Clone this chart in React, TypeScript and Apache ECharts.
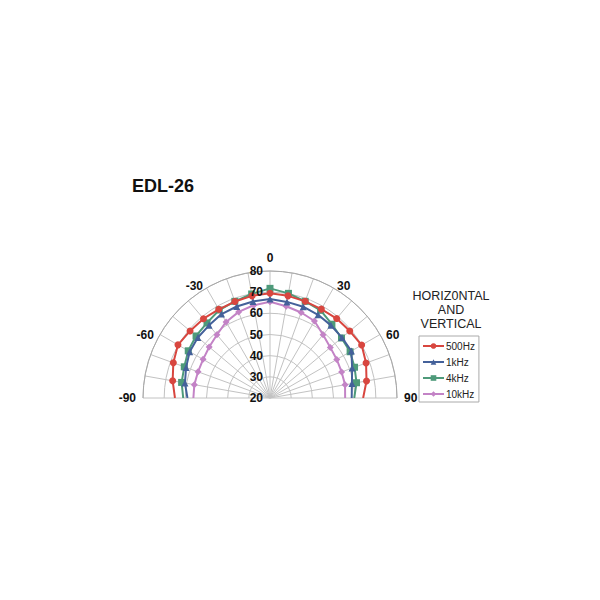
import React, { useEffect, useRef } from "react";
import * as echarts from "echarts";

const angles = [-90, -80, -70, -60, -50, -40, -30, -20, -10, 0, 10, 20, 30, 40, 50, 60, 70, 80, 90];
const s500 = [64.9, 66.7, 68.6, 70.2, 69.3, 68.9, 68.4, 68.5, 69.0, 69.5, 69.0, 68.6, 68.5, 69.0, 69.2, 70.0, 68.3, 66.3, 64.0];
const s1k = [59.0, 60.8, 62.2, 63.8, 64.5, 64.8, 65.8, 66.0, 66.3, 66.8, 66.1, 65.9, 65.4, 64.8, 64.4, 64.4, 61.3, 59.3, 58.6];
const s4k = [61.0, 62.4, 63.1, 64.6, 65.6, 66.3, 68.0, 68.6, 69.9, 71.8, 70.2, 68.6, 67.8, 65.5, 64.1, 63.7, 62.5, 61.5, 59.8];
const s10k = [56.2, 56.3, 56.2, 56.5, 57.5, 59.0, 61.5, 63.3, 64.5, 65.5, 64.0, 63.0, 62.0, 59.0, 57.2, 56.4, 56.0, 56.0, 55.5];
const seriesNames = ["500Hz", "1kHz", "4kHz", "10kHz"];
const seriesValues = [s500, s1k, s4k, s10k];
const seriesColors = ["#D8463F", "#44619A", "#4E9A7A", "#C383C6"];
const seriesSymbols = ["circle", "triangle", "rect", "diamond"];
const radiusTicks = { min: 20, max: 80, step: 10 };
const angleLabelStep = 30;
const titleText = "EDL-26";
const legendTitle = "HORIZ0NTAL\nAND\nVERTICAL";

const FONT = 'Arial, "Liberation Sans", sans-serif';

export default function App() {
  const ref = useRef<HTMLDivElement>(null);
  useEffect(() => {
    if (!ref.current) return;
    const chart = echarts.init(ref.current, null, { renderer: "svg" });
    const grid = "#c2c2c2";
    const labelStyle = { fontSize: 12, fontWeight: "bold", color: "#111", fontFamily: FONT };
    chart.setOption({
      animation: false,
      backgroundColor: "#ffffff",
      title: {
        text: titleText,
        left: 132,
        top: 177,
        padding: 0,
        textStyle: { fontSize: 18, fontWeight: "bold", color: "#111", fontFamily: FONT },
      },
      graphic: [
        {
          type: "text",
          x: 451,
          y: 289,
          style: {
            text: legendTitle,
            fontSize: 12.5,
            lineHeight: 14,
            fontFamily: FONT,
            fill: "#222",
            align: "center",
            verticalAlign: "top",
          },
        },
      ],
      legend: {
        orient: "vertical",
        left: 419,
        top: 336,
        itemWidth: 21,
        itemHeight: 7,
        itemGap: 4,
        padding: [4, 4, 2, 3],
        borderColor: "#aaa",
        borderWidth: 1,
        borderRadius: 0,
        textStyle: { fontSize: 10, fontFamily: FONT, color: "#222", lineHeight: 12, padding: [0, 0, 0, -3] },
        data: seriesNames,
      },
      polar: [
        { center: [270, 398], radius: 127 },
        { center: [270, 398], radius: 127 },
      ],
      angleAxis: [
        {
          polarIndex: 0,
          type: "value",
          min: -90,
          max: 90,
          interval: 10,
          startAngle: 180,
          endAngle: 0,
          clockwise: true,
          axisLine: { show: true, lineStyle: { color: "#a8a8a8", width: 1 } },
          axisTick: { show: false },
          axisLabel: {
            margin: 7,
            ...labelStyle,
            formatter: (v: number) => {
              if (v % angleLabelStep !== 0) return "";
              const a = Math.abs(v);
              return a === 30 || a === 60 ? `{s|${v}}` : `{n|${v}}`;
            },
            rich: {
              n: { ...labelStyle },
              s: { ...labelStyle, padding: [0, 0, -10, 0] },
            },
          },
          splitLine: { show: true, lineStyle: { color: grid, width: 1 } },
        },
        {
          polarIndex: 1,
          type: "value",
          min: 0,
          max: 360,
          startAngle: 90,
          show: false,
        },
      ],
      radiusAxis: [
        {
          polarIndex: 0,
          min: radiusTicks.min,
          max: radiusTicks.max,
          interval: radiusTicks.step,
          axisLine: { show: false },
          axisTick: { show: false },
          axisLabel: { show: false },
          splitLine: { show: true, lineStyle: { color: grid, width: 1 } },
        },
        {
          polarIndex: 1,
          min: radiusTicks.min,
          max: radiusTicks.max,
          interval: radiusTicks.step,
          axisLine: { show: false },
          axisTick: { show: false },
          splitLine: { show: false },
          axisLabel: { show: true, margin: 7, ...labelStyle },
          z: 10,
        },
      ],
      series: seriesNames.map((name, si) => ({
        name,
        type: "line",
        coordinateSystem: "polar",
        polarIndex: 0,
        symbol: seriesSymbols[si],
        symbolSize: 7,
        lineStyle: { color: seriesColors[si], width: 2 },
        itemStyle: { color: seriesColors[si] },
        data: seriesValues[si].map((v, i) =>
          Math.abs(angles[i]) === 90
            ? { value: [v, angles[i]], symbol: "none" }
            : [v, angles[i]]
        ),
        z: 5 - si,
      })),
    });
    return () => chart.dispose();
  }, []);
  return (
    <div
      ref={ref}
      style={{ position: "fixed", left: 0, top: 0, width: 600, height: 600 }}
    />
  );
}
